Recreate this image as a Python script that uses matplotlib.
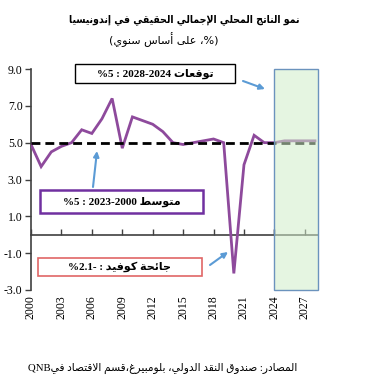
import matplotlib
matplotlib.use("Agg")
import matplotlib.pyplot as plt
from matplotlib.patches import Rectangle

# Indonesia real GDP growth, % y/y (actual 2000-2023, forecast 2024-2028)
years = list(range(2000, 2029))
gdp_growth = [4.9, 3.7, 4.5, 4.8, 5.0, 5.7, 5.5, 6.3, 7.4, 4.7,
              6.4, 6.2, 6.0, 5.6, 5.0, 4.9, 5.0, 5.1, 5.2, 5.0,
              -2.1, 3.8, 5.4, 5.0,
              5.0, 5.1, 5.1, 5.1, 5.1]
average_growth = 5.0
forecast_start = 2024
year_ticks = list(range(2000, 2028, 3))
y_ticks = [9.0, 7.0, 5.0, 3.0, 1.0, -1.0, -3.0]

title = "نمو الناتج المحلي الإجمالي الحقيقي في إندونيسيا"
subtitle = "على أساس سنوي"
source = "المصادر: صندوق النقد الدولي، بلومبيرغ،قسم الاقتصاد في"
forecast_label = "توقعات"
average_label = "متوسط"
covid_label = "جائحة كوفيد"

# --- minimal arabic shaping (presentation forms), no external libs ---
FORMS = {
    'آ': (0xFE81, False), 'أ': (0xFE83, False), 'ؤ': (0xFE85, False), 'إ': (0xFE87, False),
    'ئ': (0xFE89, True), 'ا': (0xFE8D, False), 'ب': (0xFE8F, True), 'ة': (0xFE93, False),
    'ت': (0xFE95, True), 'ث': (0xFE99, True), 'ج': (0xFE9D, True), 'ح': (0xFEA1, True),
    'خ': (0xFEA5, True), 'د': (0xFEA9, False), 'ذ': (0xFEAB, False), 'ر': (0xFEAD, False),
    'ز': (0xFEAF, False), 'س': (0xFEB1, True), 'ش': (0xFEB5, True), 'ص': (0xFEB9, True),
    'ض': (0xFEBD, True), 'ط': (0xFEC1, True), 'ظ': (0xFEC5, True), 'ع': (0xFEC9, True),
    'غ': (0xFECD, True), 'ف': (0xFED1, True), 'ق': (0xFED5, True), 'ك': (0xFED9, True),
    'ل': (0xFEDD, True), 'م': (0xFEE1, True), 'ن': (0xFEE5, True), 'ه': (0xFEE9, True),
    'و': (0xFEED, False), 'ى': (0xFEEF, False), 'ي': (0xFEF1, True),
}
LAM_ALEF = {'آ': 0xFEF5, 'أ': 0xFEF7, 'إ': 0xFEF9, 'ا': 0xFEFB}


def shape(s):
    out = []
    i = 0
    while i < len(s):
        c = s[i]
        if c not in FORMS:
            out.append(c)
            i += 1
            continue
        prev = s[i - 1] if i > 0 else ''
        link_prev = prev in FORMS and FORMS[prev][1]
        if c == 'ل' and i + 1 < len(s) and s[i + 1] in LAM_ALEF:
            out.append(chr(LAM_ALEF[s[i + 1]] + (1 if link_prev else 0)))
            i += 2
            continue
        base, dual = FORMS[c]
        nxt = s[i + 1] if i + 1 < len(s) else ''
        link_next = dual and nxt in FORMS
        if link_prev and link_next:
            form = 3
        elif link_prev:
            form = 1
        elif link_next:
            form = 2
        else:
            form = 0
        out.append(chr(base + form))
        i += 1
    return ''.join(out)


def rtl(s):
    return shape(s)[::-1]


W, H = 372, 380


def fx(x):
    return x / W


def fy(y):
    return 1 - y / H


serif = ['Liberation Serif', 'DejaVu Sans']
purple = '#8e4a9c'
arrow_blue = '#5b9bd5'

fig = plt.figure(figsize=(3.72, 3.80), dpi=100)
ax = fig.add_axes([fx(31), fy(290), fx(318 - 31), (290 - 69) / H])

ax.plot(years, gdp_growth, color=purple, lw=2.0, zorder=3, solid_joinstyle='miter')
ax.plot([years[0], years[-1]], [average_growth, average_growth], color='black',
        lw=2.0, dashes=(3.2, 1.8), zorder=4)
ax.axvspan(forecast_start, 2028.3, facecolor=(0.82, 0.93, 0.79, 0.55),
           edgecolor='#6b93bd', lw=1.0, zorder=5, clip_on=False)

ax.set_xlim(2000, 2028.3)
ax.set_ylim(-3, 9)

for side in ['top', 'right', 'bottom']:
    ax.spines[side].set_visible(False)
ax.spines['left'].set_color('#404040')
ax.spines['left'].set_linewidth(1.2)

ax.set_yticks(y_ticks, labels=[f"{v:.1f}" for v in y_ticks], fontfamily=serif, fontsize=8.5)
ax.tick_params(axis='y', direction='out', length=4, width=1, color='#404040', pad=2)
ax.set_xticks(year_ticks, labels=[str(y) for y in year_ticks], rotation=90,
              fontfamily=serif, fontsize=8.5)
ax.tick_params(axis='x', length=0, pad=4)

zero_axis = ax.secondary_xaxis(0.25)
zero_axis.set_xticks(year_ticks + [2024])
zero_axis.tick_params(direction='in', length=4, width=1, color='#404040', labelbottom=False)
zero_axis.spines['bottom'].set_color('#404040')
zero_axis.spines['bottom'].set_linewidth(1.2)

# titles
fig.text(fx(184), fy(20), rtl(title), ha='center', va='center', fontsize=7.6,
         fontweight='bold', fontfamily='DejaVu Sans', fontstretch='condensed')
fig.text(fx(164), fy(40), "(" + rtl(subtitle) + " ،%)", ha='center', va='center',
         fontsize=8, fontfamily='DejaVu Sans')
fig.text(fx(163), fy(368), "QNB" + rtl(source), ha='center', va='center',
         fontsize=7.7, fontfamily=serif)


def label_box(x0, y0, x1, y1, edge, lw, text):
    fig.add_artist(Rectangle((fx(x0), fy(y1)), fx(x1 - x0), (y1 - y0) / H,
                             transform=fig.transFigure, facecolor='white',
                             edgecolor=edge, lw=lw, zorder=6))
    fig.text(fx((x0 + x1) / 2), fy((y0 + y1) / 2), text, ha='center', va='center',
             fontsize=8, fontweight='bold', fontfamily=serif, zorder=7)


def arrow(tail, head):
    ax.annotate('', xy=(fx(head[0]), fy(head[1])), xytext=(fx(tail[0]), fy(tail[1])),
                xycoords='figure fraction', textcoords='figure fraction',
                arrowprops=dict(arrowstyle='-|>', color=arrow_blue, lw=1.5,
                                mutation_scale=8, shrinkA=0, shrinkB=0),
                annotation_clip=False, zorder=7)


label_box(75, 64, 235, 83, 'black', 1.0, "%5 : 2028-2024 " + rtl(forecast_label))
arrow((243, 81), (265, 89))

label_box(40, 190, 203, 213, '#7030a0', 1.8, "%5 : 2023-2000 " + rtl(average_label))
arrow((93, 187), (97, 151))

label_box(38, 258, 202, 276, '#e06666', 1.2, "%2.1- : " + rtl(covid_label))
arrow((210, 265), (228, 252))

fig.savefig("out.png", dpi=100)
